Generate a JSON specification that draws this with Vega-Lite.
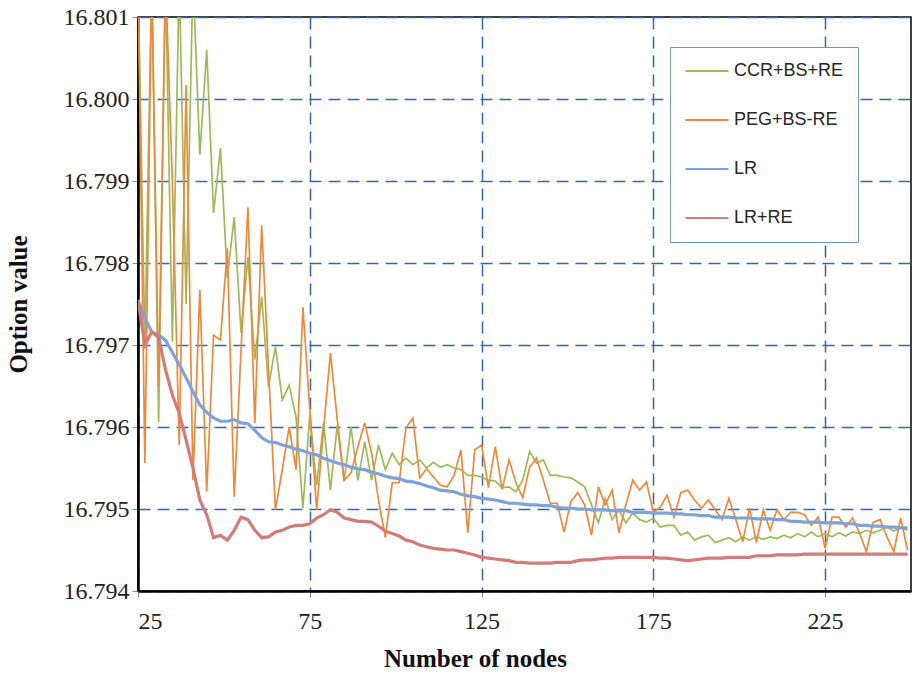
{
 "$schema": "https://vega.github.io/schema/vega-lite/v6.json",
 "width": 773, "height": 574,
 "autosize": {"type": "none"},
 "padding": {"left": 138, "top": 17, "right": 1, "bottom": 82},
 "background": "white",
 "config": {
  "view": {"stroke": "#000", "strokeWidth": 1.5},
  "axis": {"grid": true, "gridColor": "#3A64A2", "gridDash": [12, 7], "gridWidth": 1.5, "domainColor": "#000", "domainWidth": 2.5, "tickColor": "#888", "tickSize": 6, "labelFont": "Liberation Serif", "labelFontSize": 24, "labelColor": "#222", "titleFont": "Liberation Serif", "titleFontSize": 25, "titleFontWeight": "bold", "titleColor": "#111"}
 },
 "data": {"values": [
  {"n":25,"CCR+BS+RE":16.8015,"PEG+BS-RE":16.8015,"LR":16.79755,"LR+RE":16.79755},
  {"n":27,"CCR+BS+RE":16.797,"PEG+BS-RE":16.79556,"LR":16.79733,"LR+RE":16.797},
  {"n":29,"CCR+BS+RE":16.8015,"PEG+BS-RE":16.8015,"LR":16.79716,"LR+RE":16.79716},
  {"n":31,"CCR+BS+RE":16.79606,"PEG+BS-RE":16.7965,"LR":16.79712,"LR+RE":16.79709},
  {"n":33,"CCR+BS+RE":16.8015,"PEG+BS-RE":16.8015,"LR":16.79706,"LR+RE":16.7967},
  {"n":35,"CCR+BS+RE":16.79704,"PEG+BS-RE":16.799,"LR":16.79691,"LR+RE":16.79639},
  {"n":37,"CCR+BS+RE":16.8015,"PEG+BS-RE":16.79578,"LR":16.79676,"LR+RE":16.79617},
  {"n":39,"CCR+BS+RE":16.7975,"PEG+BS-RE":16.80017,"LR":16.7966,"LR+RE":16.79584},
  {"n":41,"CCR+BS+RE":16.8015,"PEG+BS-RE":16.79535,"LR":16.79643,"LR+RE":16.7955},
  {"n":43,"CCR+BS+RE":16.79932,"PEG+BS-RE":16.79767,"LR":16.79627,"LR+RE":16.79511},
  {"n":45,"CCR+BS+RE":16.8006,"PEG+BS-RE":16.79521,"LR":16.79618,"LR+RE":16.79493},
  {"n":47,"CCR+BS+RE":16.79861,"PEG+BS-RE":16.79712,"LR":16.79611,"LR+RE":16.79465},
  {"n":49,"CCR+BS+RE":16.7994,"PEG+BS-RE":16.79706,"LR":16.79607,"LR+RE":16.79468},
  {"n":51,"CCR+BS+RE":16.79782,"PEG+BS-RE":16.79818,"LR":16.79607,"LR+RE":16.79462},
  {"n":53,"CCR+BS+RE":16.79856,"PEG+BS-RE":16.79515,"LR":16.79609,"LR+RE":16.79474},
  {"n":55,"CCR+BS+RE":16.79715,"PEG+BS-RE":16.79694,"LR":16.79605,"LR+RE":16.7949},
  {"n":57,"CCR+BS+RE":16.79807,"PEG+BS-RE":16.79868,"LR":16.79604,"LR+RE":16.79487},
  {"n":59,"CCR+BS+RE":16.79682,"PEG+BS-RE":16.79605,"LR":16.79596,"LR+RE":16.79474},
  {"n":61,"CCR+BS+RE":16.79759,"PEG+BS-RE":16.79846,"LR":16.79587,"LR+RE":16.79465},
  {"n":63,"CCR+BS+RE":16.79649,"PEG+BS-RE":16.7967,"LR":16.79582,"LR+RE":16.79466},
  {"n":65,"CCR+BS+RE":16.79698,"PEG+BS-RE":16.79499,"LR":16.79581,"LR+RE":16.79472},
  {"n":67,"CCR+BS+RE":16.79633,"PEG+BS-RE":16.79548,"LR":16.79578,"LR+RE":16.79474},
  {"n":69,"CCR+BS+RE":16.79651,"PEG+BS-RE":16.796,"LR":16.79576,"LR+RE":16.79478},
  {"n":71,"CCR+BS+RE":16.79612,"PEG+BS-RE":16.79548,"LR":16.79573,"LR+RE":16.7948},
  {"n":73,"CCR+BS+RE":16.79501,"PEG+BS-RE":16.79746,"LR":16.79571,"LR+RE":16.7948},
  {"n":75,"CCR+BS+RE":16.79615,"PEG+BS-RE":16.79621,"LR":16.79568,"LR+RE":16.79482},
  {"n":77,"CCR+BS+RE":16.79529,"PEG+BS-RE":16.79499,"LR":16.79566,"LR+RE":16.79489},
  {"n":79,"CCR+BS+RE":16.79605,"PEG+BS-RE":16.79596,"LR":16.79562,"LR+RE":16.79493},
  {"n":81,"CCR+BS+RE":16.79523,"PEG+BS-RE":16.7969,"LR":16.79559,"LR+RE":16.79499},
  {"n":83,"CCR+BS+RE":16.79602,"PEG+BS-RE":16.79609,"LR":16.79556,"LR+RE":16.79496},
  {"n":85,"CCR+BS+RE":16.79535,"PEG+BS-RE":16.79535,"LR":16.79554,"LR+RE":16.79489},
  {"n":87,"CCR+BS+RE":16.796,"PEG+BS-RE":16.79544,"LR":16.79551,"LR+RE":16.79487},
  {"n":89,"CCR+BS+RE":16.79535,"PEG+BS-RE":16.79576,"LR":16.79549,"LR+RE":16.79485},
  {"n":91,"CCR+BS+RE":16.79582,"PEG+BS-RE":16.79605,"LR":16.79548,"LR+RE":16.79485},
  {"n":93,"CCR+BS+RE":16.79535,"PEG+BS-RE":16.79568,"LR":16.79545,"LR+RE":16.79484},
  {"n":95,"CCR+BS+RE":16.79578,"PEG+BS-RE":16.79511,"LR":16.79543,"LR+RE":16.79479},
  {"n":97,"CCR+BS+RE":16.79548,"PEG+BS-RE":16.79465,"LR":16.7954,"LR+RE":16.79473},
  {"n":99,"CCR+BS+RE":16.79568,"PEG+BS-RE":16.79532,"LR":16.79538,"LR+RE":16.7947},
  {"n":101,"CCR+BS+RE":16.79554,"PEG+BS-RE":16.79532,"LR":16.79537,"LR+RE":16.79467},
  {"n":103,"CCR+BS+RE":16.79562,"PEG+BS-RE":16.79599,"LR":16.79534,"LR+RE":16.79462},
  {"n":105,"CCR+BS+RE":16.79554,"PEG+BS-RE":16.79611,"LR":16.79533,"LR+RE":16.7946},
  {"n":107,"CCR+BS+RE":16.7956,"PEG+BS-RE":16.79538,"LR":16.79531,"LR+RE":16.79456},
  {"n":109,"CCR+BS+RE":16.7955,"PEG+BS-RE":16.79549,"LR":16.79528,"LR+RE":16.79454},
  {"n":111,"CCR+BS+RE":16.79557,"PEG+BS-RE":16.79539,"LR":16.79526,"LR+RE":16.79452},
  {"n":113,"CCR+BS+RE":16.79551,"PEG+BS-RE":16.79529,"LR":16.79523,"LR+RE":16.79451},
  {"n":115,"CCR+BS+RE":16.79554,"PEG+BS-RE":16.79527,"LR":16.79522,"LR+RE":16.7945},
  {"n":117,"CCR+BS+RE":16.7955,"PEG+BS-RE":16.79541,"LR":16.79521,"LR+RE":16.7945},
  {"n":119,"CCR+BS+RE":16.79548,"PEG+BS-RE":16.79572,"LR":16.79518,"LR+RE":16.79448},
  {"n":121,"CCR+BS+RE":16.79541,"PEG+BS-RE":16.79471,"LR":16.79516,"LR+RE":16.79446},
  {"n":123,"CCR+BS+RE":16.79541,"PEG+BS-RE":16.79572,"LR":16.79515,"LR+RE":16.79444},
  {"n":125,"CCR+BS+RE":16.79539,"PEG+BS-RE":16.79578,"LR":16.79513,"LR+RE":16.79441},
  {"n":127,"CCR+BS+RE":16.79535,"PEG+BS-RE":16.79526,"LR":16.79512,"LR+RE":16.7944},
  {"n":129,"CCR+BS+RE":16.79534,"PEG+BS-RE":16.79576,"LR":16.79511,"LR+RE":16.79439},
  {"n":131,"CCR+BS+RE":16.79526,"PEG+BS-RE":16.79524,"LR":16.79509,"LR+RE":16.79438},
  {"n":133,"CCR+BS+RE":16.79527,"PEG+BS-RE":16.7956,"LR":16.79507,"LR+RE":16.79437},
  {"n":135,"CCR+BS+RE":16.79521,"PEG+BS-RE":16.79532,"LR":16.79507,"LR+RE":16.79435},
  {"n":137,"CCR+BS+RE":16.79535,"PEG+BS-RE":16.79514,"LR":16.79506,"LR+RE":16.79435},
  {"n":139,"CCR+BS+RE":16.7957,"PEG+BS-RE":16.79551,"LR":16.79505,"LR+RE":16.79434},
  {"n":141,"CCR+BS+RE":16.79556,"PEG+BS-RE":16.79562,"LR":16.79505,"LR+RE":16.79434},
  {"n":143,"CCR+BS+RE":16.7956,"PEG+BS-RE":16.79535,"LR":16.79504,"LR+RE":16.79434},
  {"n":145,"CCR+BS+RE":16.79541,"PEG+BS-RE":16.79507,"LR":16.79504,"LR+RE":16.79434},
  {"n":147,"CCR+BS+RE":16.79541,"PEG+BS-RE":16.79507,"LR":16.79502,"LR+RE":16.79435},
  {"n":149,"CCR+BS+RE":16.79539,"PEG+BS-RE":16.79472,"LR":16.79501,"LR+RE":16.79435},
  {"n":151,"CCR+BS+RE":16.79538,"PEG+BS-RE":16.79509,"LR":16.79501,"LR+RE":16.79435},
  {"n":153,"CCR+BS+RE":16.79533,"PEG+BS-RE":16.7952,"LR":16.795,"LR+RE":16.79437},
  {"n":155,"CCR+BS+RE":16.79527,"PEG+BS-RE":16.79505,"LR":16.795,"LR+RE":16.79438},
  {"n":157,"CCR+BS+RE":16.79505,"PEG+BS-RE":16.79468,"LR":16.79499,"LR+RE":16.79438},
  {"n":159,"CCR+BS+RE":16.79483,"PEG+BS-RE":16.79527,"LR":16.79499,"LR+RE":16.79439},
  {"n":161,"CCR+BS+RE":16.79513,"PEG+BS-RE":16.79505,"LR":16.79499,"LR+RE":16.7944},
  {"n":163,"CCR+BS+RE":16.79487,"PEG+BS-RE":16.79523,"LR":16.79498,"LR+RE":16.7944},
  {"n":165,"CCR+BS+RE":16.79499,"PEG+BS-RE":16.79471,"LR":16.79498,"LR+RE":16.79441},
  {"n":167,"CCR+BS+RE":16.79483,"PEG+BS-RE":16.79505,"LR":16.79498,"LR+RE":16.79441},
  {"n":169,"CCR+BS+RE":16.79495,"PEG+BS-RE":16.79535,"LR":16.79496,"LR+RE":16.79441},
  {"n":171,"CCR+BS+RE":16.79487,"PEG+BS-RE":16.79523,"LR":16.79496,"LR+RE":16.79441},
  {"n":173,"CCR+BS+RE":16.79484,"PEG+BS-RE":16.79533,"LR":16.79496,"LR+RE":16.79441},
  {"n":175,"CCR+BS+RE":16.79489,"PEG+BS-RE":16.79496,"LR":16.79495,"LR+RE":16.79441},
  {"n":177,"CCR+BS+RE":16.79478,"PEG+BS-RE":16.79502,"LR":16.79495,"LR+RE":16.7944},
  {"n":179,"CCR+BS+RE":16.7948,"PEG+BS-RE":16.79517,"LR":16.79495,"LR+RE":16.7944},
  {"n":181,"CCR+BS+RE":16.7948,"PEG+BS-RE":16.7949,"LR":16.79494,"LR+RE":16.79439},
  {"n":183,"CCR+BS+RE":16.79468,"PEG+BS-RE":16.7952,"LR":16.79494,"LR+RE":16.79438},
  {"n":185,"CCR+BS+RE":16.79472,"PEG+BS-RE":16.79523,"LR":16.79493,"LR+RE":16.79437},
  {"n":187,"CCR+BS+RE":16.79462,"PEG+BS-RE":16.79511,"LR":16.79493,"LR+RE":16.79438},
  {"n":189,"CCR+BS+RE":16.79466,"PEG+BS-RE":16.79501,"LR":16.79492,"LR+RE":16.79439},
  {"n":191,"CCR+BS+RE":16.79468,"PEG+BS-RE":16.79511,"LR":16.79492,"LR+RE":16.7944},
  {"n":193,"CCR+BS+RE":16.79459,"PEG+BS-RE":16.79499,"LR":16.7949,"LR+RE":16.7944},
  {"n":195,"CCR+BS+RE":16.79462,"PEG+BS-RE":16.79487,"LR":16.7949,"LR+RE":16.7944},
  {"n":197,"CCR+BS+RE":16.79465,"PEG+BS-RE":16.79513,"LR":16.7949,"LR+RE":16.79441},
  {"n":199,"CCR+BS+RE":16.7946,"PEG+BS-RE":16.79487,"LR":16.79489,"LR+RE":16.79441},
  {"n":201,"CCR+BS+RE":16.79466,"PEG+BS-RE":16.7946,"LR":16.79489,"LR+RE":16.79441},
  {"n":203,"CCR+BS+RE":16.79462,"PEG+BS-RE":16.79501,"LR":16.79489,"LR+RE":16.79441},
  {"n":205,"CCR+BS+RE":16.79466,"PEG+BS-RE":16.79459,"LR":16.79488,"LR+RE":16.79443},
  {"n":207,"CCR+BS+RE":16.79463,"PEG+BS-RE":16.79499,"LR":16.79488,"LR+RE":16.79443},
  {"n":209,"CCR+BS+RE":16.79466,"PEG+BS-RE":16.79474,"LR":16.79488,"LR+RE":16.79443},
  {"n":211,"CCR+BS+RE":16.79464,"PEG+BS-RE":16.79499,"LR":16.79487,"LR+RE":16.79444},
  {"n":213,"CCR+BS+RE":16.79468,"PEG+BS-RE":16.79487,"LR":16.79487,"LR+RE":16.79444},
  {"n":215,"CCR+BS+RE":16.79465,"PEG+BS-RE":16.79496,"LR":16.79485,"LR+RE":16.79444},
  {"n":217,"CCR+BS+RE":16.7947,"PEG+BS-RE":16.79496,"LR":16.79485,"LR+RE":16.79444},
  {"n":219,"CCR+BS+RE":16.79466,"PEG+BS-RE":16.79493,"LR":16.79484,"LR+RE":16.79445},
  {"n":221,"CCR+BS+RE":16.79472,"PEG+BS-RE":16.7948,"LR":16.79484,"LR+RE":16.79445},
  {"n":223,"CCR+BS+RE":16.79466,"PEG+BS-RE":16.7949,"LR":16.79484,"LR+RE":16.79445},
  {"n":225,"CCR+BS+RE":16.7947,"PEG+BS-RE":16.79452,"LR":16.79483,"LR+RE":16.79445},
  {"n":227,"CCR+BS+RE":16.79466,"PEG+BS-RE":16.7949,"LR":16.79483,"LR+RE":16.79445},
  {"n":229,"CCR+BS+RE":16.79471,"PEG+BS-RE":16.7949,"LR":16.79483,"LR+RE":16.79445},
  {"n":231,"CCR+BS+RE":16.79467,"PEG+BS-RE":16.79478,"LR":16.79482,"LR+RE":16.79445},
  {"n":233,"CCR+BS+RE":16.79472,"PEG+BS-RE":16.79489,"LR":16.79482,"LR+RE":16.79445},
  {"n":235,"CCR+BS+RE":16.7947,"PEG+BS-RE":16.79471,"LR":16.7948,"LR+RE":16.79445},
  {"n":237,"CCR+BS+RE":16.79474,"PEG+BS-RE":16.79448,"LR":16.7948,"LR+RE":16.79445},
  {"n":239,"CCR+BS+RE":16.79471,"PEG+BS-RE":16.79484,"LR":16.79479,"LR+RE":16.79445},
  {"n":241,"CCR+BS+RE":16.79474,"PEG+BS-RE":16.79487,"LR":16.79479,"LR+RE":16.79445},
  {"n":243,"CCR+BS+RE":16.79478,"PEG+BS-RE":16.79466,"LR":16.79478,"LR+RE":16.79445},
  {"n":245,"CCR+BS+RE":16.79473,"PEG+BS-RE":16.79448,"LR":16.79478,"LR+RE":16.79445},
  {"n":247,"CCR+BS+RE":16.79477,"PEG+BS-RE":16.79489,"LR":16.79477,"LR+RE":16.79445},
  {"n":249,"CCR+BS+RE":16.79474,"PEG+BS-RE":16.7945,"LR":16.79477,"LR+RE":16.79445}
 ]},
 "transform": [{"fold": ["CCR+BS+RE", "PEG+BS-RE", "LR", "LR+RE"], "as": ["method", "value"]}],
 "encoding": {
  "x": {"field": "n", "type": "quantitative",
   "scale": {"domain": [25, 250], "nice": false, "zero": false},
   "axis": {"title": "Number of nodes", "values": [25, 75, 125, 175, 225], "labelPadding": 12, "titleX": 337, "titleY": 55, "titleAnchor": "middle"}},
  "y": {"field": "value", "type": "quantitative",
   "scale": {"domain": [16.794, 16.801], "nice": false, "zero": false},
   "axis": {"title": "Option value", "values": [16.794, 16.795, 16.796, 16.797, 16.798, 16.799, 16.8, 16.801], "format": ".3f", "labelPadding": 3, "titleX": -107}},
  "color": {"field": "method", "type": "nominal",
   "scale": {"domain": ["CCR+BS+RE", "PEG+BS-RE", "LR", "LR+RE"], "range": ["#9BBB59", "#F0883A", "#7FA3D6", "#D27C7A"]},
   "legend": {"orient": "none", "legendX": 532, "legendY": 30, "title": null, "symbolType": "stroke", "symbolSize": 1850, "symbolStrokeWidth": 2, "labelFont": "Liberation Sans", "labelFontSize": 18, "labelColor": "#262626", "labelOffset": 4, "padding": 14, "rowPadding": 29, "clipHeight": 20, "strokeColor": "#6F93C8", "fillColor": "white", "labelLimit": 0}}
 },
 "layer": [
  {"transform": [{"filter": {"field": "method", "oneOf": ["CCR+BS+RE", "PEG+BS-RE"]}}],
   "mark": {"type": "line", "clip": true, "strokeWidth": 1.7}},
  {"transform": [{"filter": {"field": "method", "oneOf": ["LR", "LR+RE"]}}],
   "mark": {"type": "line", "clip": true, "strokeWidth": 3.2}}
 ]
}
